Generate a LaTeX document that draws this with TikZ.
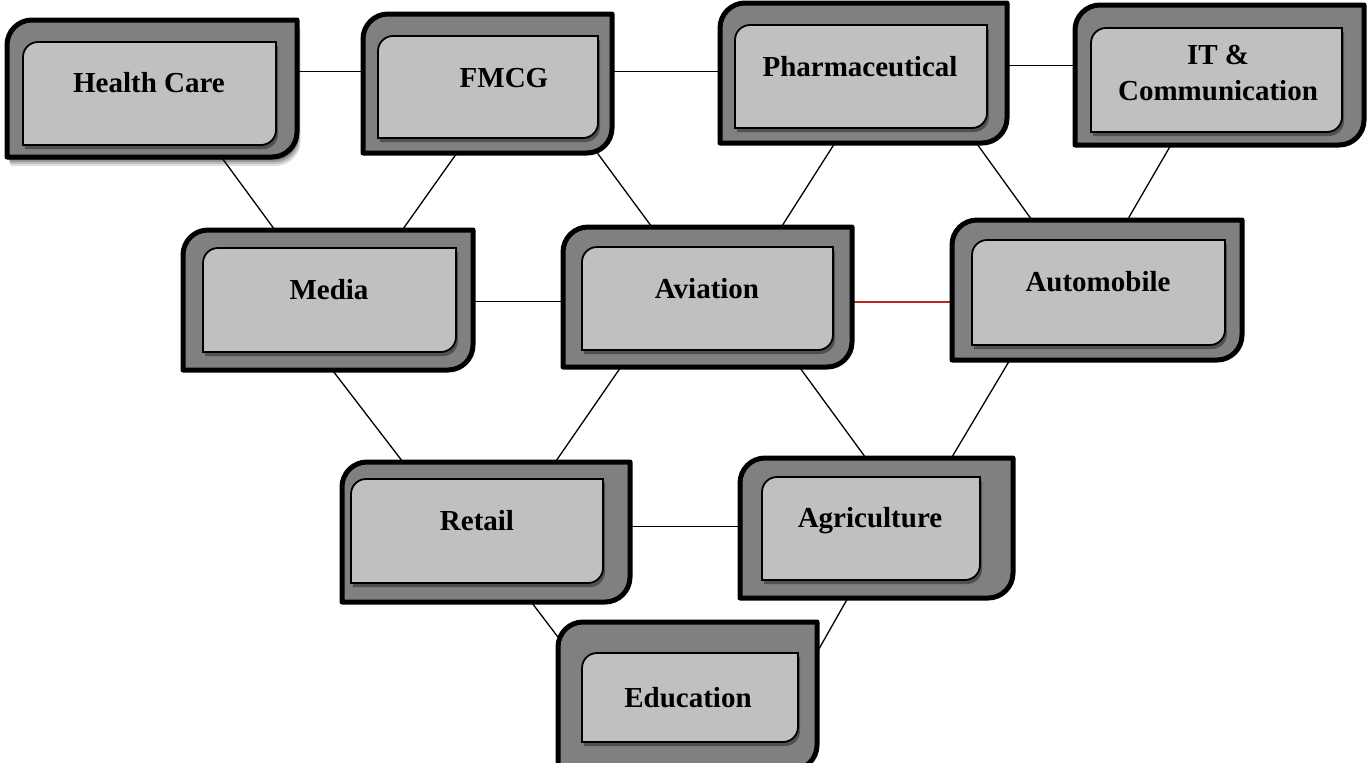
\documentclass[tikz,border=0pt]{standalone}
\usepackage{fontspec}
\setmainfont{Liberation Serif}
\usetikzlibrary{fit,calc}
\definecolor{outerfill}{RGB}{128,128,128}
\definecolor{innerfill}{RGB}{192,192,192}
\definecolor{innershadow}{RGB}{80,80,80}
\definecolor{redline}{RGB}{178,40,36}
\pgfdeclarelayer{bg}
\pgfsetlayers{bg,main}
\tikzset{
  outerpart/.style={fill=outerfill, draw=black, line width=2.5pt, line join=round},
  innerpart/.style={fill=innerfill, draw=black, line width=0.9pt},
  innershade/.style={fill=innershadow},
  lbl/.style={font=\fontsize{14.5}{18}\selectfont\bfseries, inner sep=0pt, anchor=base, align=center},
  link/.style={draw=black, line width=0.65pt},
  redlink/.style={draw=redline, line width=0.9pt}
}
% #1 name, #2-#5 outer x1 y1 x2 y2, #6-#9 inner x1 y1 x2 y2
\newcommand\sectorbox[9]{%
  \node[inner sep=0pt, fit={(#2,#3)(#4,#5)}] (#1) {};
  \path[outerpart] (#2,#5) -- (#2,#3+25) arc[start angle=180,end angle=270,radius=25]
    -- (#4,#3) -- (#4,#5-25) arc[start angle=0,end angle=90,radius=25] -- cycle;
  \path[innershade, shift={(2,4)}] (#6,#9) -- (#6,#7+15) arc[start angle=180,end angle=270,radius=15]
    -- (#8,#7) -- (#8,#9-15) arc[start angle=0,end angle=90,radius=15] -- cycle;
  \path[innerpart] (#6,#9) -- (#6,#7+15) arc[start angle=180,end angle=270,radius=15]
    -- (#8,#7) -- (#8,#9-15) arc[start angle=0,end angle=90,radius=15] -- cycle;
}
\begin{document}
\begin{tikzpicture}[x=0.5pt,y=-0.5pt]
\useasboundingbox (0,0) rectangle (1368,762);
% soft drop shadow under Health Care
\foreach \o/\op in {9/0.12,7/0.15,5/0.2,3/0.25}{
  \fill[black, opacity=\op] (7+\o*0.4,157+\o) -- (7+\o*0.4,20+25+\o) -- (297+\o*0.4,20+\o) -- (297+\o*0.4,157-25+\o) arc[start angle=0,end angle=90,radius=25] -- cycle;
}
\sectorbox{hc}{7}{20}{297}{157}{23}{42}{276}{145}
\sectorbox{fmcg}{363}{14}{612}{153}{378}{36}{598}{138}
\sectorbox{pharma}{720}{3}{1007}{143}{735}{25}{987}{128}
\sectorbox{it}{1075}{5}{1364}{145}{1091}{28}{1342}{132}
\sectorbox{media}{183}{230}{473}{370}{203}{248}{456}{352}
\sectorbox{aviation}{563}{227}{852}{367}{582}{247}{833}{350}
\sectorbox{auto}{952}{220}{1242}{360}{972}{240}{1225}{345}
\sectorbox{retail}{342}{462}{630}{602}{351}{479}{603}{583}
\sectorbox{agri}{740}{458}{1013}{598}{762}{477}{980}{580}
\sectorbox{edu}{558}{622}{817}{770}{582}{653}{798}{742}

\node[lbl] (hc-t) at (149,92) {Health Care};
\node[lbl] (fmcg-t) at (504,87) {FMCG};
\node[lbl] (pharma-t) at (860,76) {Pharmaceutical};
\node[lbl] (it-t) at (1218,100) {IT \&\\Communication};
\node[lbl] (media-t) at (329,299) {Media};
\node[lbl] (aviation-t) at (707,298) {Aviation};
\node[lbl] (auto-t) at (1098,291) {Automobile};
\node[lbl] (retail-t) at (477,530) {Retail};
\node[lbl] (agri-t) at (870,527) {Agriculture};
\node[lbl] (edu-t) at (688,707) {Education};

\begin{pgfonlayer}{bg}
\draw[link] ($(hc.north east)+(0,52)$) -- ($(fmcg.north west)+(0,58)$);
\draw[link] ($(fmcg.north east)+(0,58)$) -- ($(pharma.north west)+(0,69)$);
\draw[link] ($(pharma.north east)+(0,63)$) -- ($(it.north west)+(0,61)$);
\draw[link] ($(hc.south west)+(215,0)$) -- ($(media.north west)+(92,0)$);
\draw[link] ($(fmcg.south west)+(94,0)$) -- ($(media.north west)+(220,0)$);
\draw[link] ($(fmcg.south west)+(235,0)$) -- ($(aviation.north west)+(89,0)$);
\draw[link] ($(pharma.south west)+(115,0)$) -- ($(aviation.north west)+(219,0)$);
\draw[link] ($(pharma.south west)+(257,0)$) -- ($(auto.north west)+(80,0)$);
\draw[link] ($(it.south west)+(96,0)$) -- ($(auto.north west)+(176,0)$);
\draw[link] ($(media.north east)+(0,72)$) -- ($(aviation.north west)+(0,75)$);
\draw[redlink] ($(aviation.north east)+(0,75)$) -- ($(auto.north west)+(0,82)$);
\draw[link] ($(media.south west)+(150,0)$) -- ($(retail.north west)+(61,0)$);
\draw[link] ($(aviation.south west)+(58,0)$) -- ($(retail.north west)+(214,0)$);
\draw[link] ($(aviation.south west)+(237,0)$) -- ($(agri.north west)+(126,0)$);
\draw[link] ($(auto.south west)+(58,0)$) -- ($(agri.north west)+(212,0)$);
\draw[link] ($(retail.north east)+(0,65)$) -- ($(agri.north west)+(0,69)$);
\draw[link] ($(retail.south west)+(190,0)$) -- ($(edu.north west)+(0,15)$);
\draw[link] ($(agri.south west)+(108,0)$) -- ($(edu.north east)+(0,30)$);
\end{pgfonlayer}
\end{tikzpicture}
\end{document}
